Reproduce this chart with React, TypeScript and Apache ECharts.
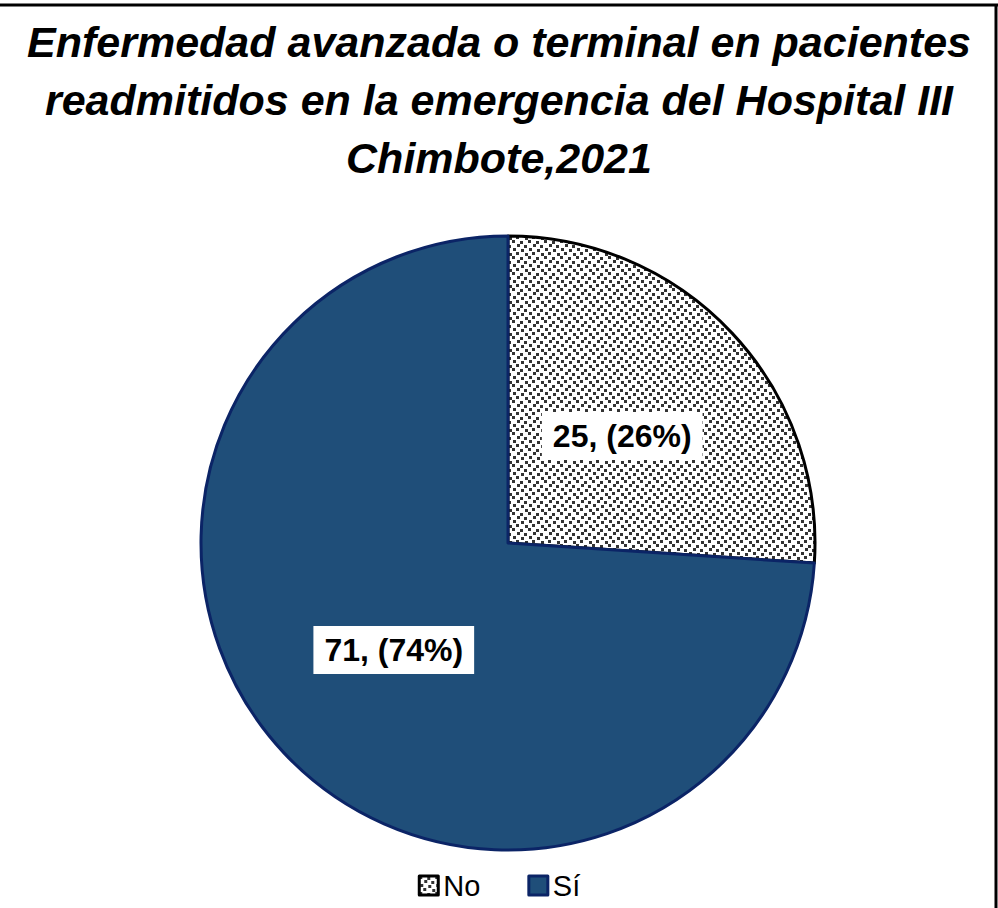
import React, { useEffect, useRef } from "react";
import * as echarts from "echarts";

const titleLines = [
  "Enfermedad avanzada o terminal en pacientes",
  "readmitidos en la emergencia del Hospital III",
  "Chimbote,2021",
];
const categories = ["No", "Sí"];
const values = [25, 71];

function makePattern(): HTMLCanvasElement {
  const c = document.createElement("canvas");
  c.width = 16;
  c.height = 16;
  const ctx = c.getContext("2d")!;
  ctx.fillStyle = "#ffffff";
  ctx.fillRect(0, 0, 16, 16);
  ctx.fillStyle = "#333333";
  const dots = [
    [0, 0], [8, 1], [5, 4], [12, 5], [1, 8], [9, 9], [4, 12], [13, 13],
  ];
  dots.forEach(([x, y]) => ctx.fillRect(x, y, 3, 3));
  return c;
}

export default function App() {
  const ref = useRef<HTMLDivElement>(null);
  useEffect(() => {
    document.body.style.margin = "0";
    const chart = echarts.init(ref.current!, null, { renderer: "svg" });
    const pattern = makePattern();
    const fills: any[] = [
      { image: pattern, repeat: "repeat" },
      "#1f4e79",
    ];
    const borders = ["#000000", "#0b2466"];
    chart.setOption({
      animation: false,
      backgroundColor: "#ffffff",
      title: {
        text: titleLines.join("\n"),
        left: "center",
        top: 8,
        textStyle: {
          fontFamily: "Liberation Sans",
          fontSize: 43,
          fontWeight: "bold",
          fontStyle: "italic",
          color: "#000",
          lineHeight: 58,
        },
      },
      legend: {
        bottom: 3,
        left: "center",
        itemWidth: 19,
        itemHeight: 19,
        itemGap: 47,
        icon: "rect",
        itemStyle: { borderWidth: 3 },
        textStyle: { fontFamily: "Liberation Sans", fontSize: 29, color: "#000" },
        data: categories,
      },
      series: [
        {
          type: "pie",
          center: [508, 543],
          radius: 307,
          startAngle: 90,
          clockwise: true,
          percentPrecision: 0,
          label: {
            show: true,
            position: "inside",
            formatter: "{c}, ({d}%)",
            backgroundColor: "#ffffff",
            padding: [8, 11, 8, 11],
            fontFamily: "Liberation Sans",
            fontSize: 32,
            fontWeight: "bold",
            color: "#000",
          },
          labelLine: { show: false },
          emphasis: { disabled: true },
          data: categories.map((name, i) => ({
            name,
            value: values[i],
            itemStyle: { color: fills[i], borderColor: borders[i], borderWidth: 3 },
          })),
        },
      ],
      graphic: [
        { type: "line", shape: { x1: 0, y1: 5, x2: 998, y2: 5 }, style: { stroke: "#000", lineWidth: 3 } },
        { type: "line", shape: { x1: 996, y1: 5, x2: 996, y2: 908 }, style: { stroke: "#000", lineWidth: 3 } },
      ],
    });
    return () => chart.dispose();
  }, []);
  return <div ref={ref} style={{ position: "absolute", left: 0, top: 0, width: 998, height: 908 }} />;
}
